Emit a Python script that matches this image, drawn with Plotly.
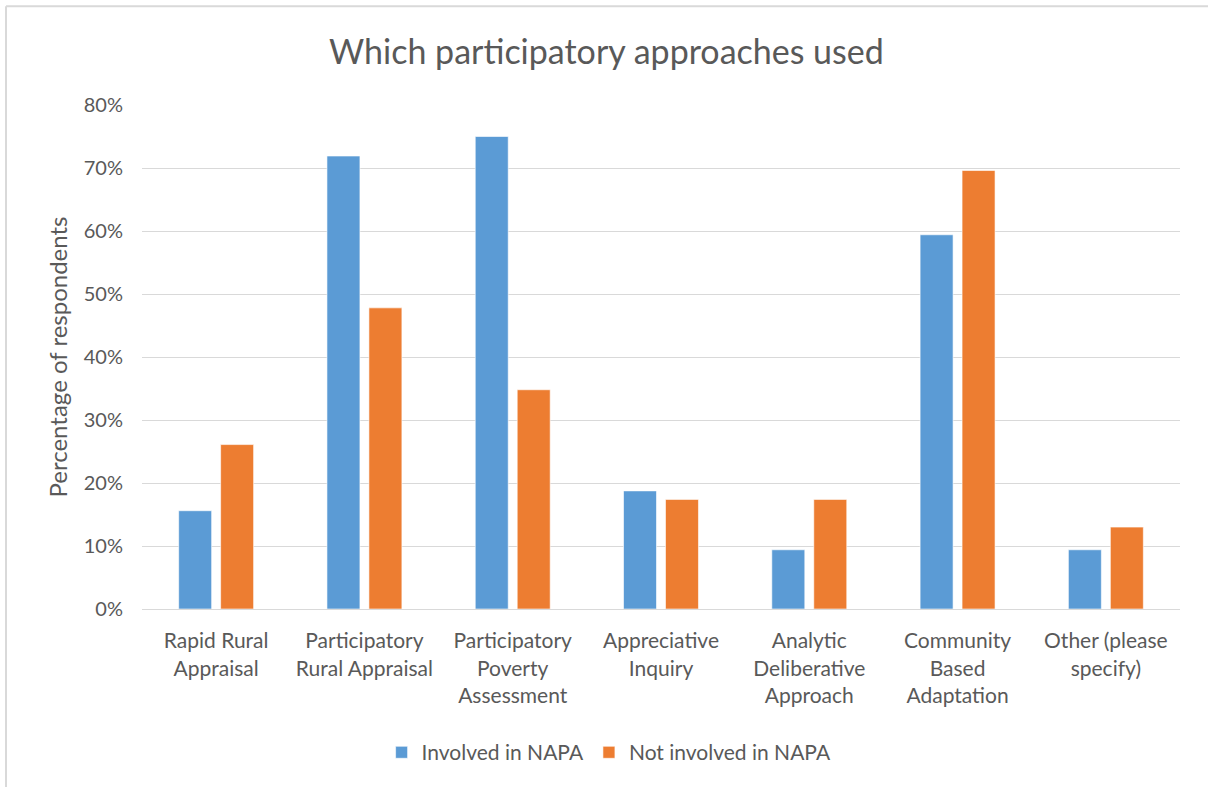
import plotly.graph_objects as go

# Survey results: share of respondents using each participatory approach
categories = [
    "Rapid Rural<br>Appraisal",
    "Participatory<br>Rural Appraisal",
    "Participatory<br>Poverty<br>Assessment",
    "Appreciative<br>Inquiry",
    "Analytic<br>Deliberative<br>Approach",
    "Community<br>Based<br>Adaptation",
    "Other (please<br>specify)",
]
involved_napa = [0.156, 0.719, 0.750, 0.1875, 0.094, 0.594, 0.094]
not_involved_napa = [0.261, 0.478, 0.348, 0.174, 0.174, 0.696, 0.130]
y_ticks = [0, 0.1, 0.2, 0.3, 0.4, 0.5, 0.6, 0.7, 0.8]
y_tick_labels = ["0%", "10%", "20%", "30%", "40%", "50%", "60%", "70%", "80%"]

FONT = "Lato, Calibri, Carlito, sans-serif"
GREY = "#595959"

fig = go.Figure()
fig.add_trace(go.Bar(
    x=categories, y=involved_napa, name="Involved in NAPA",
    marker=dict(color="#5B9BD5", line=dict(color="rgba(255,255,255,0.6)", width=1)),
))
fig.add_trace(go.Bar(
    x=categories, y=not_involved_napa, name="Not involved in NAPA",
    marker=dict(color="#ED7D31", line=dict(color="rgba(255,255,255,0.6)", width=1)),
))

fig.update_layout(
    width=1208, height=787,
    margin=dict(l=142, r=28, t=105, b=178),
    paper_bgcolor="white", plot_bgcolor="white",
    font=dict(family=FONT, color=GREY, size=18),
    title=dict(text="Which participatory approaches used", x=0.502, xanchor="center",
               y=0.934, yanchor="middle", font=dict(size=34, color=GREY)),
    barmode="group", bargap=0.434, bargroupgap=0.214,
    showlegend=True,
    legend=dict(orientation="h", x=0.45, xanchor="center", y=-0.285, yanchor="middle",
                font=dict(size=21, color=GREY), itemwidth=30, traceorder="normal"),
    xaxis=dict(showgrid=False, showline=True, linecolor="#d9d9d9", linewidth=1,
               tickfont=dict(size=21, color=GREY), ticks="", ticklabelstandoff=13),
    yaxis=dict(range=[0, 0.8], tickvals=y_ticks, ticktext=y_tick_labels,
               showgrid=True, gridcolor="#d9d9d9", gridwidth=1, zeroline=False,
               showline=False, tickfont=dict(size=20, color=GREY), ticklabelstandoff=18,
               title=dict(text="Percentage of respondents", font=dict(size=24, color=GREY),
                          standoff=9)),
    shapes=[
        # chart frame (left and top edges)
        dict(type="line", xref="paper", yref="paper", x0=-0.131, x1=-0.131, y0=1.196, y1=-0.4,
             line=dict(color="#d9d9d9", width=2)),
        dict(type="line", xref="paper", yref="paper", x0=-0.131, x1=1.05, y0=1.196, y1=1.196,
             line=dict(color="#d9d9d9", width=2)),
    ],
)

fig.write_html("out.html")
